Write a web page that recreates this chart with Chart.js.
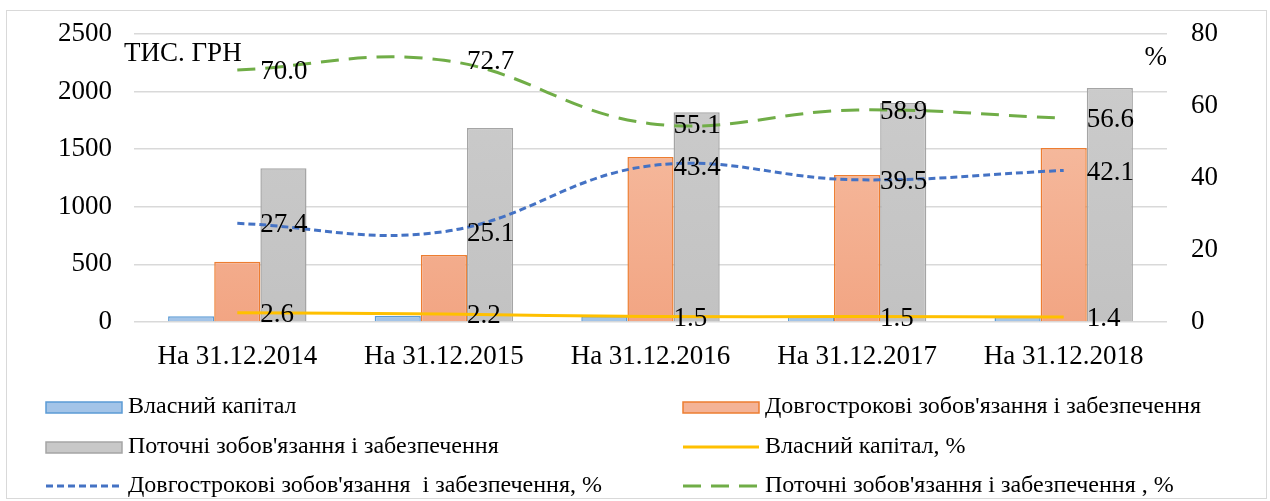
<!DOCTYPE html>
<html>
<head>
<meta charset="utf-8">
<script src="https://cdn.jsdelivr.net/npm/chart.js@4/dist/chart.umd.min.js"></script>
<style>
  body { margin: 0; background: #fff; }
  #wrap { width: 1270px; height: 501px; }
</style>
</head>
<body>
<div id="wrap"><canvas id="chart" width="1270" height="501"></canvas></div>
<script>
// категорії та значення
const labels = ["На 31.12.2014", "На 31.12.2015", "На 31.12.2016", "На 31.12.2017", "На 31.12.2018"];

const equity = [50, 51, 50, 49, 50];            // Власний капітал, тис. грн
const longTerm = [523, 582, 1432, 1277, 1511];  // Довгострокові зобов'язання
const current = [1335, 1684, 1821, 1902, 2032]; // Поточні зобов'язання

const equityPct = [2.6, 2.2, 1.5, 1.5, 1.4];
const longTermPct = [27.4, 25.1, 43.4, 39.5, 42.1];
const currentPct = [70.0, 72.7, 55.1, 58.9, 56.6];

const leftTicks = [0, 500, 1000, 1500, 2000, 2500];
const rightTicks = [0, 20, 40, 60, 80];

const FONT = "'Liberation Serif'";
const FS = 27;

// вертикальний градієнт для стовпців
function grad(top, bottom) {
    return ctx => {
        const area = ctx.chart.chartArea;
        if (!area) return bottom;
        const g = ctx.chart.ctx.createLinearGradient(0, area.top, 0, area.bottom);
        g.addColorStop(0, top);
        g.addColorStop(1, bottom);
        return g;
    };
}

// підписи значень на лініях (праворуч від точки)
const lineLabels = {
    id: "lineLabels",
    afterDatasetsDraw(chart) {
        const ctx = chart.ctx;
        ctx.save();
        ctx.font = FS + "px " + FONT;
        ctx.fillStyle = "#000";
        ctx.textAlign = "left";
        ctx.textBaseline = "middle";
        chart.data.datasets.forEach((ds, i) => {
            if (ds.type !== "line") return;
            chart.getDatasetMeta(i).data.forEach((pt, j) => {
                ctx.fillText(ds.data[j].toFixed(1), pt.x + 23, pt.y + 2);
            });
        });
        ctx.restore();
    }
};

// назви осей, легенда у два стовпці, рамка
const extras = {
    id: "extras",
    afterDraw(chart) {
        const ctx = chart.ctx;
        const area = chart.chartArea;
        ctx.save();
        ctx.strokeStyle = "#d9d9d9";
        ctx.lineWidth = 1;
        ctx.strokeRect(6.5, 10.5, 1260, 488);

        ctx.font = FS + "px " + FONT;
        ctx.fillStyle = "#000";
        ctx.textBaseline = "middle";
        ctx.textAlign = "left";
        ctx.fillText("ТИС. ГРН", 124, 54);
        ctx.textAlign = "right";
        ctx.fillText("%", area.right, 58);

        // легенда
        const cols = [46, 683];
        const rows = [407, 447, 486];
        ctx.textAlign = "left";
        chart.data.datasets.forEach((ds, i) => {
            const x = cols[i % 2];
            const y = rows[Math.floor(i / 2)];
            if (ds.type === "line") {
                ctx.beginPath();
                ctx.setLineDash(ds.borderDash || []);
                ctx.strokeStyle = ds.borderColor;
                ctx.lineWidth = 3;
                ctx.moveTo(x, y);
                ctx.lineTo(x + 76, y);
                ctx.stroke();
                ctx.setLineDash([]);
            } else {
                ctx.fillStyle = ds.legendFill;
                ctx.fillRect(x, y - 5, 76, 11);
                ctx.strokeStyle = ds.borderColor;
                ctx.lineWidth = 1.5;
                ctx.strokeRect(x, y - 5, 76, 11);
            }
            ctx.fillStyle = "#000";
            ctx.font = "24px " + FONT;
            ctx.fillText(ds.label, x + 82, y);
        });
        ctx.restore();
    }
};

const canvas = document.querySelector("#chart");

new Chart(canvas, {
    data: {
        labels: labels,
        datasets: [
            {
                type: "bar", label: "Власний капітал", data: equity, yAxisID: "y",
                backgroundColor: "#a3c4e8", legendFill: "#a3c4e8", borderColor: "#5b9bd5", borderWidth: 1.5, order: 2
            },
            {
                type: "bar", label: "Довгострокові зобов'язання і забезпечення", data: longTerm, yAxisID: "y",
                backgroundColor: grad("#f7c4ab", "#f2a583"), legendFill: "#f4b396",
                borderColor: "#ed7d31", borderWidth: 1.5, order: 2
            },
            {
                type: "bar", label: "Поточні зобов'язання і забезпечення", data: current, yAxisID: "y",
                backgroundColor: grad("#cdcdcd", "#c2c2c2"), legendFill: "#c8c8c8",
                borderColor: "#a5a5a5", borderWidth: 1.5, order: 2
            },
            {
                type: "line", label: "Власний капітал, %", data: equityPct, yAxisID: "y1",
                borderColor: "#ffc000", borderWidth: 3, pointRadius: 0, tension: 0.4, order: 1
            },
            {
                type: "line", label: "Довгострокові зобов'язання  і забезпечення, %", data: longTermPct, yAxisID: "y1",
                borderColor: "#4472c4", borderWidth: 3, borderDash: [7, 4], pointRadius: 0, tension: 0.4, order: 1
            },
            {
                type: "line", label: "Поточні зобов'язання і забезпечення , %", data: currentPct, yAxisID: "y1",
                borderColor: "#70ad47", borderWidth: 3, borderDash: [18, 10], pointRadius: 0, tension: 0.4, order: 1
            }
        ]
    },
    options: {
        responsive: false,
        animation: false,
        devicePixelRatio: 1,
        categoryPercentage: 0.67,
        barPercentage: 1.0,
        layout: { padding: { top: 34, left: 0, right: 0, bottom: 0 } },
        plugins: {
            legend: { display: false },
            tooltip: { enabled: false }
        },
        scales: {
            x: {
                grid: { display: false },
                border: { display: false },
                ticks: { color: "#000", font: { family: FONT, size: FS }, padding: 11, maxRotation: 0 },
                afterFit: s => { s.height = 179; }
            },
            y: {
                position: "left",
                min: 0, max: 2500,
                afterBuildTicks: s => { s.ticks = leftTicks.map(v => ({ value: v })); },
                grid: { color: "#d9d9d9", lineWidth: 1.5, drawTicks: false },
                border: { display: false },
                ticks: { color: "#000", font: { family: FONT, size: FS }, padding: 22, callback: v => String(v) },
                afterFit: s => { s.width = 134; s.paddingTop = 0; s.paddingBottom = 0; }
            },
            y1: {
                position: "right",
                min: 0, max: 80,
                afterBuildTicks: s => { s.ticks = rightTicks.map(v => ({ value: v })); },
                grid: { display: false, drawTicks: false },
                border: { display: false },
                ticks: { color: "#000", font: { family: FONT, size: FS }, padding: 24, callback: v => String(v) },
                afterFit: s => { s.width = 103; s.paddingTop = 0; s.paddingBottom = 0; }
            }
        }
    },
    plugins: [lineLabels, extras]
});
</script>
</body>
</html>
